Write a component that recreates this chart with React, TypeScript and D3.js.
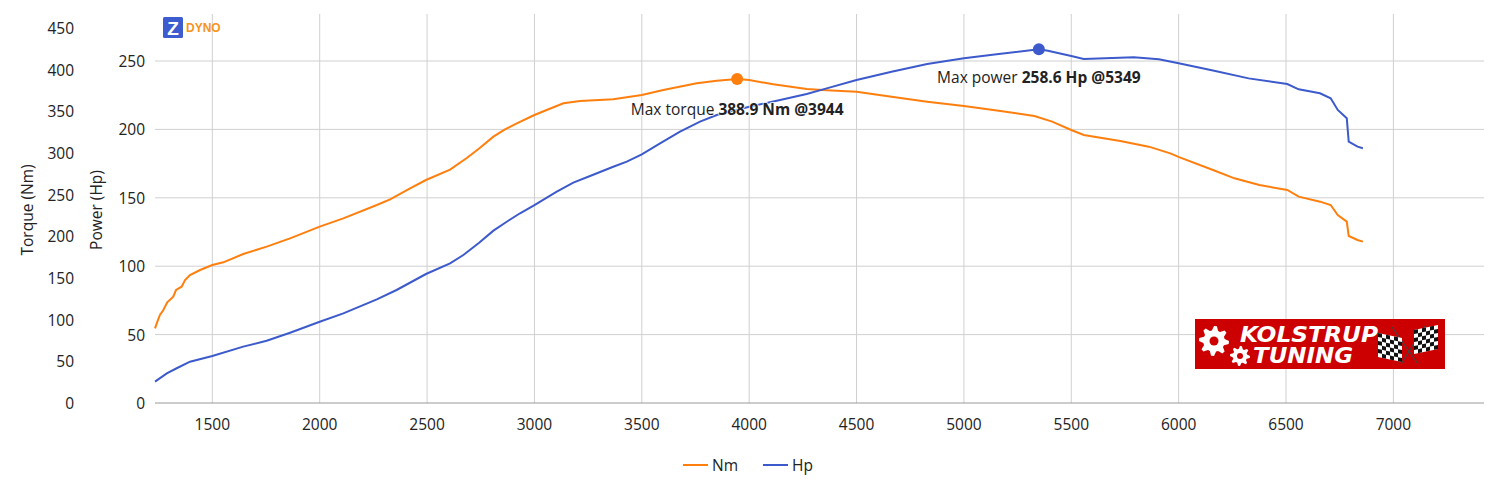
//@ts-nocheck
import React, { Component } from "react";
import * as d3 from "d3";

// torque curve (Nm vs rpm)
const torqueRpm = [1233, 1244, 1256, 1272, 1290, 1318, 1331, 1357, 1373, 1396, 1443, 1500, 1551, 1644, 1753, 1862, 2000, 2110, 2266, 2328, 2421, 2495, 2607, 2685, 2741, 2809, 2863, 2918, 3000, 3057, 3135, 3212, 3367, 3500, 3600, 3756, 3849, 3944, 4000, 4112, 4268, 4361, 4500, 4663, 4829, 5000, 5162, 5328, 5411, 5500, 5558, 5728, 5861, 5961, 6002, 6160, 6260, 6376, 6506, 6559, 6659, 6708, 6741, 6783, 6792, 6833, 6858];
const torqueNm = [89.6, 97.6, 105.6, 111.6, 120.8, 127.6, 135.6, 139.6, 147.6, 153.6, 159.6, 165.6, 168.8, 178.8, 187.6, 197.6, 211.6, 221.6, 237.6, 244.4, 257.6, 267.6, 280, 294, 305, 319.6, 328.4, 335.6, 345.6, 351.6, 359.6, 362.4, 364.4, 369.6, 375.6, 383.6, 386.8, 388.9, 387.6, 382.4, 376.8, 375.2, 373.6, 367.6, 361.6, 356.4, 350.8, 344.4, 337.6, 327.6, 321.6, 314.4, 307.6, 299.6, 295, 279.6, 269.6, 261.6, 255.6, 247.6, 241.6, 237.6, 225.6, 217.6, 200.4, 195.6, 193.6];

// power curve (Hp vs rpm)
const powerRpm = [1233, 1288, 1334, 1396, 1500, 1644, 1753, 1862, 2000, 2110, 2266, 2358, 2495, 2607, 2669, 2741, 2809, 2871, 2933, 3000, 3104, 3181, 3259, 3367, 3430, 3500, 3585, 3678, 3771, 3849, 4000, 4144, 4268, 4361, 4500, 4663, 4829, 5000, 5162, 5349, 5391, 5500, 5558, 5658, 5791, 5908, 6000, 6160, 6326, 6506, 6559, 6658, 6708, 6741, 6783, 6792, 6833, 6858];
const powerHp = [15.6, 21.7, 25.4, 30.2, 34.4, 41.2, 45.5, 51.4, 59.4, 65.5, 75.8, 82.6, 94.3, 102.1, 108.2, 117, 126, 132.5, 138.7, 144.7, 154.5, 161.1, 165.9, 172.7, 176.4, 181.8, 189.8, 198.3, 205.7, 210.5, 216.6, 221.5, 225.9, 230, 236.1, 242.2, 247.8, 252, 255.1, 258.6, 257.5, 253.7, 251.5, 252, 252.7, 251.2, 248.3, 243, 237.3, 233.2, 229.3, 226.4, 222.7, 214.2, 208.1, 191, 187.4, 186.2];

const rpmTicks = [1500, 2000, 2500, 3000, 3500, 4000, 4500, 5000, 5500, 6000, 6500, 7000];
const torqueTicks = [0, 50, 100, 150, 200, 250, 300, 350, 400, 450];
const powerTicks = [0, 50, 100, 150, 200, 250];

const maxTorque = { rpm: 3944, value: 388.9 };
const maxPower = { rpm: 5349, value: 258.6 };

const ORANGE = "#ff7f0e";
const BLUE = "#3c5acb";
const FONT = "'Open Sans', 'Noto Sans', sans-serif";

class App extends Component {
  svgRef = React.createRef();

  componentDidMount() {
    const svg = d3.select(this.svgRef.current);
    svg.selectAll("*").remove();

    const left = 155, right = 1484, top = 14, bottom = 403;
    const x = d3.scaleLinear().domain([1233, 7422]).range([left, right]);
    const yT = d3.scaleLinear().domain([0, 450]).range([bottom, 28]);
    const yP = d3.scaleLinear().domain([0, 250]).range([bottom, 61]);

    // grid
    svg.append("g")
      .selectAll("line")
      .data(rpmTicks)
      .join("line")
      .attr("x1", (d) => x(d)).attr("x2", (d) => x(d))
      .attr("y1", top).attr("y2", bottom)
      .attr("stroke", "#d0d0d0");
    svg.append("g")
      .selectAll("line")
      .data(powerTicks.filter((d) => d > 0))
      .join("line")
      .attr("x1", left).attr("x2", right)
      .attr("y1", (d) => yP(d)).attr("y2", (d) => yP(d))
      .attr("stroke", "#d0d0d0");
    svg.append("line")
      .attr("x1", left).attr("x2", right)
      .attr("y1", bottom).attr("y2", bottom)
      .attr("stroke", "#999");

    // tick labels
    const txt = (g) => g.attr("font-family", FONT).attr("font-size", 15.5).attr("fill", "#222");
    svg.append("g").call(txt)
      .selectAll("text").data(rpmTicks).join("text")
      .attr("x", (d) => x(d)).attr("y", 424)
      .attr("text-anchor", "middle").attr("dominant-baseline", "central")
      .text((d) => d);
    svg.append("g").call(txt)
      .selectAll("text").data(torqueTicks).join("text")
      .attr("x", 74).attr("y", (d) => yT(d))
      .attr("text-anchor", "end").attr("dominant-baseline", "central")
      .text((d) => d);
    svg.append("g").call(txt)
      .selectAll("text").data(powerTicks).join("text")
      .attr("x", 145).attr("y", (d) => yP(d))
      .attr("text-anchor", "end").attr("dominant-baseline", "central")
      .text((d) => d);

    // axis titles
    svg.append("text").call(txt)
      .attr("transform", "translate(27,210) rotate(-90)")
      .attr("text-anchor", "middle").attr("dominant-baseline", "central")
      .text("Torque (Nm)");
    svg.append("text").call(txt)
      .attr("transform", "translate(96,210) rotate(-90)")
      .attr("text-anchor", "middle").attr("dominant-baseline", "central")
      .text("Power (Hp)");

    // zdyno logo
    svg.append("rect").attr("x", 163).attr("y", 17).attr("width", 20).attr("height", 21)
      .attr("rx", 1.5).attr("fill", "#3d5ccf");
    svg.append("text").attr("x", 173).attr("y", 28).attr("text-anchor", "middle")
      .attr("dominant-baseline", "central").attr("font-family", "Arial, 'Liberation Sans', sans-serif")
      .attr("font-weight", "bold").attr("font-size", 19).attr("fill", "#fff").text("Z");
    svg.append("text").attr("x", 186).attr("y", 28)
      .attr("dominant-baseline", "central").attr("font-family", "Arial, 'Liberation Sans', sans-serif")
      .attr("font-weight", "bold").attr("font-size", 12).attr("fill", "#f7941d").text("DYNO");

    // curves
    const tData = torqueRpm.map((r, i) => [r, torqueNm[i]]);
    const pData = powerRpm.map((r, i) => [r, powerHp[i]]);
    svg.append("path")
      .attr("d", d3.line().x((d) => x(d[0])).y((d) => yT(d[1]))(tData))
      .attr("fill", "none").attr("stroke", ORANGE).attr("stroke-width", 2);
    svg.append("path")
      .attr("d", d3.line().x((d) => x(d[0])).y((d) => yP(d[1]))(pData))
      .attr("fill", "none").attr("stroke", BLUE).attr("stroke-width", 2);

    svg.append("circle").attr("cx", x(maxTorque.rpm)).attr("cy", yT(maxTorque.value))
      .attr("r", 6).attr("fill", ORANGE);
    svg.append("circle").attr("cx", x(maxPower.rpm)).attr("cy", yP(maxPower.value))
      .attr("r", 6).attr("fill", BLUE);

    // annotations
    const note = (label, bold, cx, cy) => {
      const t = svg.append("text").call(txt)
        .attr("x", cx).attr("y", cy).attr("text-anchor", "middle")
        .attr("dominant-baseline", "central").attr("fill", "#222")
        .attr("stroke", "#fff").attr("stroke-width", 2).attr("paint-order", "stroke")
        .attr("stroke-opacity", 0.8);
      t.append("tspan").text(label + " ");
      t.append("tspan").attr("font-weight", "bold").text(bold);
    };
    note("Max torque", `${maxTorque.value} Nm @${maxTorque.rpm}`, x(maxTorque.rpm), yT(maxTorque.value) + 30);
    note("Max power", `${maxPower.value} Hp @${maxPower.rpm}`, x(maxPower.rpm), yP(maxPower.value) + 28);

    // legend
    const legend = [["Nm", ORANGE, 683], ["Hp", BLUE, 763]];
    legend.forEach(([name, color, lx]) => {
      svg.append("line").attr("x1", lx).attr("x2", lx + 25).attr("y1", 465).attr("y2", 465)
        .attr("stroke", color).attr("stroke-width", 2);
      svg.append("text").call(txt).attr("x", lx + 29).attr("y", 465)
        .attr("dominant-baseline", "central").text(name);
    });

    // kolstrup tuning badge
    const b = svg.append("g");
    b.append("rect").attr("x", 1195).attr("y", 319).attr("width", 250).attr("height", 50).attr("fill", "#cc0000");
    const gear = (cx, cy, r, teeth) => {
      const pts = [];
      for (let i = 0; i < teeth * 4; i++) {
        const a = (i / (teeth * 4)) * Math.PI * 2;
        const rr = i % 4 < 2 ? r : r * 0.72;
        pts.push([cx + rr * Math.cos(a), cy + rr * Math.sin(a)]);
      }
      b.append("path").attr("d", d3.line()(pts) + "Z").attr("fill", "#fff");
      b.append("circle").attr("cx", cx).attr("cy", cy).attr("r", r * 0.3).attr("fill", "#cc0000");
    };
    gear(1214, 341, 15, 8);
    gear(1240, 356, 10, 8);
    const badgeFont = "'DejaVu Sans', Arial, sans-serif";
    b.append("text").attr("x", 1240).attr("y", 342).attr("font-family", badgeFont)
      .attr("font-weight", "bold").attr("font-style", "italic").attr("font-size", 21)
      .attr("fill", "#fff").attr("textLength", 138).attr("lengthAdjust", "spacingAndGlyphs").text("KOLSTRUP");
    b.append("text").attr("x", 1253).attr("y", 363).attr("font-family", badgeFont)
      .attr("font-weight", "bold").attr("font-style", "italic").attr("font-size", 21)
      .attr("fill", "#fff").attr("textLength", 100).attr("lengthAdjust", "spacingAndGlyphs").text("TUNING");
    const flag = (fx, fy, dir) => {
      const g = b.append("g").attr("transform", `translate(${fx},${fy}) skewY(${dir * -12})`);
      g.append("rect").attr("x", 0).attr("y", 0).attr("width", 24).attr("height", 24).attr("fill", "#fff");
      for (let i = 0; i < 6; i++) {
        for (let j = 0; j < 6; j++) {
          if ((i + j) % 2 === 0) {
            g.append("rect").attr("x", i * 4).attr("y", j * 4).attr("width", 4).attr("height", 4).attr("fill", "#111");
          }
        }
      }
    };
    b.append("line").attr("x1", 1392).attr("y1", 327).attr("x2", 1418).attr("y2", 364).attr("stroke", "#444").attr("stroke-width", 1.2);
    b.append("line").attr("x1", 1425).attr("y1", 326).attr("x2", 1401).attr("y2", 364).attr("stroke", "#444").attr("stroke-width", 1.2);
    flag(1378, 333, -1);
    flag(1414, 330, 1);
  }

  render() {
    return (
      <svg
        ref={this.svgRef}
        width={1500}
        height={500}
        style={{ position: "absolute", left: 0, top: 0, display: "block", background: "#fff" }}
      />
    );
  }
}

export default App;
